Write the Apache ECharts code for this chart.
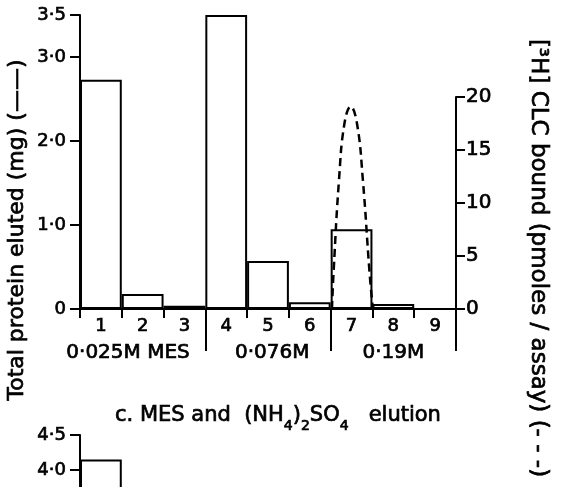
<!DOCTYPE html>
<html>
<head>
<meta charset="utf-8">
<script src="https://cdn.jsdelivr.net/npm/echarts@6/dist/echarts.min.js"></script>
<style>
  html, body { margin: 0; padding: 0; background: #fff; }
  #main { width: 561px; height: 487px; }
</style>
</head>
<body>
<div id="main"></div>
<script>
// fractions 1..9, protein per fraction (mg)
var fractions = ['1', '2', '3', '4', '5', '6', '7', '8', '9'];
var proteinValues = [2.73, 0.18, 0.04, 3.5, 0.57, 0.08, 0.95, 0.06, 0];
// [3H]CLC bound, read along the fraction scale (fraction 7 peak)
var clcX = [6.53, 6.57, 6.70, 6.83, 6.98, 7.13, 7.27, 7.43, 7.51];
var clcValues = [0, 3.5, 12.2, 17.5, 19.1, 17.5, 12.2, 3.5, 0];
// eluting buffers
var groupNames = ['0·025M MES', '0·076M', '0·19M'];
var groupEdges = [3.5, 6.5, 9.5];
var groupLabelAt = [1.65, 5.1, 8.0];
var leftTicks = [0, 1, 2, 3, 3.5];
var rightTicks = [0, 5, 10, 15, 20];
// panel below (only top of it is in view)
var nextPanelValues = [4.15];
var nextPanelTicks = [4, 4.5];

var FONT = 'DejaVu Sans';
var myChart = echarts.init(document.getElementById('main'), null, {renderer: 'canvas'});

function dotNum(v) {
    if (v === 0) return '0';
    return v.toFixed(1).replace('.', '·');
}

var clcData = [];
for (var i = 0; i < clcX.length; i++) {
    clcData.push([clcX[i], clcValues[i]]);
}

var axisLineStyle = {color: '#000', width: 2};
// heavier strokes, like the printed figure
function lbl(size, extra) {
    return Object.assign({color: '#000', fontFamily: FONT, fontSize: size,
        textBorderColor: '#000', textBorderWidth: 0.7}, extra);
}
function richPart(size) {
    return {fontFamily: FONT, fontSize: size, fontWeight: 'normal', color: '#000',
        textBorderColor: '#000', textBorderWidth: 0.7, lineHeight: 28,
        verticalAlign: size > 15 ? 'top' : 'bottom'};
}

var option = {
    animation: false,
    backgroundColor: '#fff',
    title: {
        text: '{a|c. MES and  (NH}{b|4}{a|)}{b|2}{a|SO}{b|4}{a|   elution}',
        left: 110,
        top: 400,
        textStyle: {
            fontWeight: 'normal',
            rich: {a: richPart(21), b: richPart(14)}
        }
    },
    grid: [
        {left: 80, right: 105, top: 15, height: 294, outerBoundsMode: 'none'},
        {left: 80, right: 105, top: 97, height: 212, outerBoundsMode: 'none'},
        {left: 80, right: 105, top: 435, height: 315, outerBoundsMode: 'none'}
    ],
    xAxis: [
        {
            type: 'category',
            gridIndex: 0,
            data: fractions,
            boundaryGap: true,
            axisLine: {lineStyle: axisLineStyle},
            axisTick: {show: true, length: 9, lineStyle: axisLineStyle},
            axisLabel: lbl(18, {margin: 8}),
            splitLine: {show: false}
        },
        {
            type: 'value',
            gridIndex: 1,
            min: 0.5,
            max: 9.5,
            axisLine: {show: false},
            axisTick: {show: true, length: 42, customValues: groupEdges, lineStyle: axisLineStyle},
            axisLabel: lbl(20, {
                margin: 34,
                customValues: groupLabelAt,
                formatter: function (v) {
                    var k = groupLabelAt.indexOf(v);
                    return k >= 0 ? groupNames[k] : '';
                }
            }),
            splitLine: {show: false}
        },
        {
            type: 'category',
            gridIndex: 2,
            data: fractions,
            show: false
        }
    ],
    yAxis: [
        {
            type: 'value',
            gridIndex: 0,
            min: 0,
            max: 3.5,
            axisLine: {show: true, lineStyle: axisLineStyle},
            axisTick: {show: true, inside: false, length: 10, customValues: leftTicks, lineStyle: axisLineStyle},
            axisLabel: lbl(18, {margin: 14, customValues: leftTicks, formatter: dotNum}),
            splitLine: {show: false}
        },
        {
            type: 'value',
            gridIndex: 1,
            position: 'right',
            min: 0,
            max: 20,
            axisLine: {show: true, lineStyle: axisLineStyle},
            axisTick: {show: true, inside: false, length: 9, customValues: rightTicks, lineStyle: axisLineStyle},
            axisLabel: lbl(20, {margin: 10, customValues: rightTicks}),
            splitLine: {show: false}
        },
        {
            type: 'value',
            gridIndex: 2,
            min: 0,
            max: 4.5,
            axisLine: {show: true, lineStyle: axisLineStyle},
            axisTick: {show: true, inside: false, length: 10, customValues: nextPanelTicks, lineStyle: axisLineStyle},
            axisLabel: lbl(18, {margin: 14, customValues: nextPanelTicks, formatter: dotNum}),
            splitLine: {show: false}
        }
    ],
    series: [
        {
            name: 'protein',
            type: 'bar',
            xAxisIndex: 0,
            yAxisIndex: 0,
            data: proteinValues,
            barWidth: '100%',
            barCategoryGap: 0,
            itemStyle: {color: '#fff', borderColor: '#000', borderWidth: 2},
            z: 2
        },
        {
            name: 'clc',
            type: 'line',
            xAxisIndex: 1,
            yAxisIndex: 1,
            data: clcData,
            smooth: 0.45,
            showSymbol: false,
            lineStyle: {color: '#000', width: 2.5, type: [8, 5]},
            z: 5
        },
        {
            name: 'protein next',
            type: 'bar',
            xAxisIndex: 2,
            yAxisIndex: 2,
            data: nextPanelValues,
            barWidth: '100%',
            barCategoryGap: 0,
            itemStyle: {color: '#fff', borderColor: '#000', borderWidth: 2}
        }
    ],
    graphic: [
        {
            type: 'text',
            x: 17,
            y: 230,
            rotation: Math.PI / 2,
            style: {
                text: 'Total protein eluted (mg) (——)',
                fontFamily: FONT,
                fontSize: 22,
                fill: '#000',
                stroke: '#000',
                lineWidth: 0.7,
                align: 'center',
                verticalAlign: 'middle'
            }
        },
        {
            type: 'text',
            x: 538,
            y: 258,
            rotation: -Math.PI / 2,
            style: {
                text: '[³H] CLC bound (pmoles / assay) (- - -)',
                fontFamily: FONT,
                fontSize: 23,
                fill: '#000',
                stroke: '#000',
                lineWidth: 0.7,
                align: 'center',
                verticalAlign: 'middle'
            }
        }
    ]
};

myChart.setOption(option);
</script>
</body>
</html>
